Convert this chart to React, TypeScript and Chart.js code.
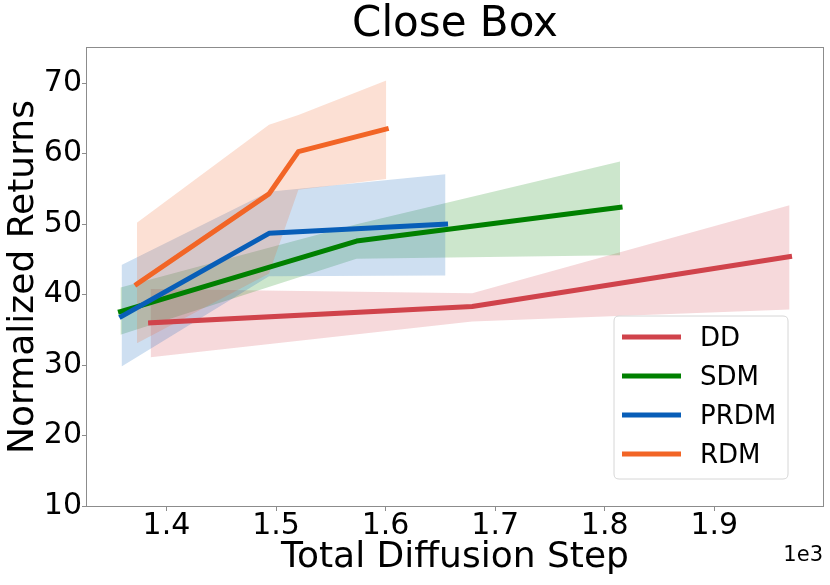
import { useEffect, useRef } from "react";
import { Chart, registerables } from "chart.js";

Chart.register(...registerables);

const FONT = '"DejaVu Sans", "Liberation Sans", sans-serif';

const titleText = "Close Box";
const xTitle = "Total Diffusion Step";
const yTitle = "Normalized Returns";
const offsetText = "1e3";

const xTicks = [1400, 1500, 1600, 1700, 1800, 1900];
const yTicks = [10, 20, 30, 40, 50, 60, 70];

// DD
const ddX = [1385.5, 1679, 1968.7];
const ddMean = [36.0, 38.3, 45.4];
const ddUpper = [40.8, 40.2, 52.7];
const ddLower = [31.1, 36.2, 37.9];

// SDM
const sdmX = [1358, 1573.5, 1814];
const sdmMean = [37.6, 47.6, 52.4];
const sdmUpper = [41.0, 50.0, 58.9];
const sdmLower = [34.3, 45.1, 45.6];

// PRDM
const prdmX = [1359, 1493.6, 1654.7];
const prdmMean = [36.9, 48.7, 50.0];
const prdmUpper = [44.2, 54.6, 57.1];
const prdmLower = [29.8, 42.6, 42.7];

// RDM
const rdmX = [1373, 1493.6, 1520.4, 1600.6];
const rdmMean = [41.5, 54.3, 60.3, 63.5];
const rdmUpper = [50.2, 64.1, 65.5, 70.4];
const rdmLower = [33.1, 43.0, 54.9, 56.4];

const methods = [
  { name: "DD", rgb: [208, 67, 75], x: ddX, mean: ddMean, upper: ddUpper, lower: ddLower },
  { name: "SDM", rgb: [0, 128, 0], x: sdmX, mean: sdmMean, upper: sdmUpper, lower: sdmLower },
  { name: "PRDM", rgb: [8, 94, 184], x: prdmX, mean: prdmMean, upper: prdmUpper, lower: prdmLower },
  { name: "RDM", rgb: [242, 101, 38], x: rdmX, mean: rdmMean, upper: rdmUpper, lower: rdmLower },
];

const rgba = (c: number[], a: number) => `rgba(${c[0]},${c[1]},${c[2]},${a})`;

const allX = methods.flatMap((m) => m.x);
const xDataMin = Math.min(...allX);
const xDataMax = Math.max(...allX);
const xPad = (xDataMax - xDataMin) * 0.05;

const AXIS_GRAY = "#8c8c8c";

const decorPlugin = {
  id: "decor",
  afterDraw(chart: any) {
    const { ctx, chartArea } = chart;
    const { left, right, top, bottom } = chartArea;
    ctx.save();
    // frame
    ctx.strokeStyle = AXIS_GRAY;
    ctx.lineWidth = 1;
    ctx.strokeRect(Math.round(left) - 0.5, Math.round(top) - 0.5, Math.round(right - left) + 1, Math.round(bottom - top) + 1);
    // title
    ctx.fillStyle = "#000";
    ctx.font = `42px ${FONT}`;
    ctx.textAlign = "center";
    ctx.textBaseline = "middle";
    ctx.fillText(titleText, (left + right) / 2, 25);
    // offset text
    ctx.font = `21px ${FONT}`;
    ctx.textAlign = "right";
    ctx.textBaseline = "alphabetic";
    ctx.fillText(offsetText, right, 561);
    // legend
    const bx = 614, by = 316, bw = 174, bh = 163, r = 5;
    ctx.beginPath();
    ctx.moveTo(bx + r, by);
    ctx.lineTo(bx + bw - r, by);
    ctx.quadraticCurveTo(bx + bw, by, bx + bw, by + r);
    ctx.lineTo(bx + bw, by + bh - r);
    ctx.quadraticCurveTo(bx + bw, by + bh, bx + bw - r, by + bh);
    ctx.lineTo(bx + r, by + bh);
    ctx.quadraticCurveTo(bx, by + bh, bx, by + bh - r);
    ctx.lineTo(bx, by + r);
    ctx.quadraticCurveTo(bx, by, bx + r, by);
    ctx.closePath();
    ctx.fillStyle = "rgba(255,255,255,0.8)";
    ctx.fill();
    ctx.strokeStyle = "#d6d6d6";
    ctx.lineWidth = 1;
    ctx.stroke();
    ctx.font = `26px ${FONT}`;
    ctx.textAlign = "left";
    ctx.textBaseline = "middle";
    methods.forEach((m, i) => {
      const y = 337 + i * 39;
      ctx.beginPath();
      ctx.strokeStyle = rgba(m.rgb, 1);
      ctx.lineWidth = 5;
      ctx.lineCap = "butt";
      ctx.moveTo(622, y);
      ctx.lineTo(681, y);
      ctx.stroke();
      ctx.fillStyle = "#000";
      ctx.fillText(m.name, 700, y + 2);
    });
    ctx.restore();
  },
};

export default function App() {
  const ref = useRef<HTMLCanvasElement | null>(null);

  useEffect(() => {
    if (!ref.current) return;
    const datasets: any[] = [];
    const n = methods.length;
    methods.forEach((m, i) => {
      datasets.push({
        label: m.name + " upper",
        data: m.x.map((x, j) => ({ x, y: m.upper[j] })),
        borderWidth: 0,
        pointRadius: 0,
        fill: "+1",
        backgroundColor: rgba(m.rgb, 0.2),
        borderColor: "rgba(0,0,0,0)",
        tension: 0,
        order: 100 + (n - i),
      });
      datasets.push({
        label: m.name + " lower",
        data: m.x.map((x, j) => ({ x, y: m.lower[j] })),
        borderWidth: 0,
        pointRadius: 0,
        fill: false,
        borderColor: "rgba(0,0,0,0)",
        tension: 0,
        order: 50 + (n - i),
      });
      datasets.push({
        label: m.name,
        data: m.x.map((x, j) => ({ x, y: m.mean[j] })),
        borderWidth: 5,
        borderColor: rgba(m.rgb, 1),
        backgroundColor: rgba(m.rgb, 1),
        pointRadius: 0,
        fill: false,
        tension: 0,
        borderCapStyle: "square",
        borderJoinStyle: "round",
        order: n - i,
      });
    });

    const chart = new Chart(ref.current, {
      type: "line",
      data: { datasets },
      options: {
        animation: false,
        responsive: false,
        devicePixelRatio: 1,
        layout: { padding: { top: 48, right: 7, left: 0, bottom: 0 } },
        plugins: {
          legend: { display: false },
          tooltip: { enabled: false },
          title: { display: false },
          filler: { drawTime: "beforeDatasetsDraw" },
        } as any,
        scales: {
          x: {
            type: "linear",
            min: xDataMin - xPad,
            max: xDataMax + xPad,
            afterBuildTicks: (s: any) => {
              s.ticks = xTicks.map((v) => ({ value: v }));
            },
            afterFit: (s: any) => {
              s.height = 79;
            },
            ticks: {
              callback: (v: any) => (Number(v) / 1000).toFixed(1),
              font: { family: FONT, size: 30 },
              color: "#000",
              padding: -3,
              maxRotation: 0,
              autoSkip: false,
            },
            grid: { drawOnChartArea: false, drawTicks: true, tickLength: 5, tickColor: AXIS_GRAY },
            border: { display: false },
            title: {
              display: true,
              text: xTitle,
              font: { family: FONT, size: 36 },
              color: "#000",
              padding: { top: 0, bottom: 6 },
            },
          },
          y: {
            type: "linear",
            min: 10,
            max: 75,
            afterBuildTicks: (s: any) => {
              s.ticks = yTicks.map((v) => ({ value: v }));
            },
            afterFit: (s: any) => {
              s.width = 87;
            },
            ticks: {
              font: { family: FONT, size: 30 },
              color: "#000",
              padding: 0,
            },
            grid: { drawOnChartArea: false, drawTicks: true, tickLength: 5, tickColor: AXIS_GRAY },
            border: { display: false },
            title: {
              display: true,
              text: yTitle,
              font: { family: FONT, size: 36 },
              color: "#000",
              padding: { top: 2, bottom: 0 },
            },
          },
        },
      } as any,
      plugins: [decorPlugin],
    });
    return () => chart.destroy();
  }, []);

  return (
    <div style={{ position: "absolute", left: 0, top: 0, width: 830, height: 585, background: "#fff" }}>
      <canvas ref={ref} width={830} height={585} />
    </div>
  );
}
